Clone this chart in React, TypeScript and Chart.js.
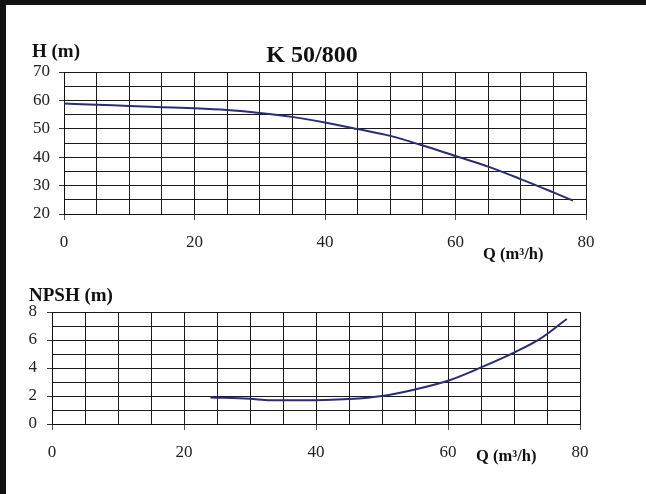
import React, { useEffect, useRef } from "react";
import { Chart, registerables } from "chart.js";
Chart.register(...registerables);

// ---- data ----
const headQ = [0, 5, 10, 15, 20, 25, 30, 35, 40, 45, 50, 55, 60, 65, 70, 75, 78];
const headH = [58.9, 58.5, 58, 57.6, 57.2, 56.6, 55.6, 54.2, 52.2, 49.9, 47.5, 44.1, 40.4, 36.7, 32.3, 27.6, 24.7];
const npshQ = [24, 30, 33, 40, 45, 50, 55, 60, 65, 70, 74, 78];
const npshV = [1.9, 1.8, 1.7, 1.7, 1.78, 2.0, 2.47, 3.09, 4.04, 5.1, 6.1, 7.5];
const xLabelTicks = [0, 20, 40, 60, 80];
const titleText = "K 50/800";
const headAxisTitle = "H (m)";
const npshAxisTitle = "NPSH (m)";
const qAxisTitle = "Q (m³/h)";

const SERIF = "'Liberation Serif', 'Times New Roman', serif";
const LINE = "#2b2b7a";
const GRID = "#1a1a1a";

type TextItem = { text: string; x: number; y: number; size: number; bold?: boolean; align?: CanvasTextAlign };

const textPlugin = {
  id: "freeText",
  afterDraw(chart: any, _args: any, opts: any) {
    const ctx = chart.ctx;
    const items: TextItem[] = opts.items || [];
    ctx.save();
    ctx.fillStyle = "#111";
    ctx.textBaseline = "alphabetic";
    for (const it of items) {
      ctx.font = `${it.bold ? "bold " : ""}${it.size}px ${SERIF}`;
      ctx.textAlign = it.align || "left";
      ctx.fillText(it.text, it.x, it.y);
    }
    ctx.restore();
  },
};

function makeConfig(
  qs: number[],
  vs: number[],
  yMin: number,
  yMax: number,
  yStep: number,
  yLabelEvery: number,
  area: { left: number; right: number; top: number; bottom: number },
  size: { w: number; h: number },
  yPad: number,
  xPad: number,
  texts: TextItem[]
): any {
  return {
    type: "line",
    data: {
      datasets: [
        {
          data: qs.map((q, i) => ({ x: q, y: vs[i] })),
          borderColor: LINE,
          borderWidth: 2,
          pointRadius: 0,
          cubicInterpolationMode: "monotone",
          fill: false,
        },
      ],
    },
    options: {
      animation: false,
      responsive: false,
      maintainAspectRatio: false,
      layout: { padding: { left: 0, top: area.top, right: size.w - area.right, bottom: 0 } },
      plugins: { legend: { display: false }, tooltip: { enabled: false }, title: { display: false }, freeText: { items: texts } },
      scales: {
        x: {
          type: "linear",
          min: 0,
          max: 80,
          afterFit: (s: any) => {
            s.height = size.h - area.bottom;
          },
          afterBuildTicks: (s: any) => {
            const t = [];
            for (let v = 0; v <= 80; v += 5) t.push({ value: v });
            s.ticks = t;
          },
          ticks: {
            autoSkip: false,
            maxRotation: 0,
            padding: xPad,
            color: "#222",
            font: { family: SERIF, size: 17 },
            callback: (v: number) => (xLabelTicks.includes(v) ? String(v) : ""),
          },
          grid: {
            color: GRID,
            lineWidth: 1,
            tickLength: 6,
            tickColor: (c: any) => (c.tick && xLabelTicks.includes(c.tick.value) ? "#555" : "rgba(0,0,0,0)"),
          },
          border: { color: "#111", width: 1 },
        },
        y: {
          type: "linear",
          min: yMin,
          max: yMax,
          afterFit: (s: any) => {
            s.width = area.left;
          },
          afterBuildTicks: (s: any) => {
            const t = [];
            for (let v = yMin; v <= yMax + 1e-9; v += yStep) t.push({ value: v });
            s.ticks = t;
          },
          ticks: {
            autoSkip: false,
            padding: yPad,
            color: "#222",
            font: { family: SERIF, size: 17 },
            callback: (v: number) => (Math.abs(v % yLabelEvery) < 1e-9 ? String(v) : ""),
          },
          grid: {
            color: GRID,
            lineWidth: 1,
            tickLength: 5,
            tickColor: (c: any) =>
              c.tick && Math.abs(c.tick.value % yLabelEvery) < 1e-9 ? "#333" : "rgba(0,0,0,0)",
          },
          border: { color: "#111", width: 1 },
        },
      },
    },
    plugins: [textPlugin],
  };
}

function ChartCanvas({ config, w, h, top }: { config: any; w: number; h: number; top: number }) {
  const ref = useRef<HTMLCanvasElement>(null);
  useEffect(() => {
    if (!ref.current) return;
    const c = new Chart(ref.current, config);
    return () => c.destroy();
  }, []);
  return (
    <canvas
      ref={ref}
      width={w}
      height={h}
      style={{ position: "absolute", left: 0, top, width: w, height: h }}
    />
  );
}

export default function App() {
  const W = 646;
  const H1 = 265;
  const H2 = 494 - H1;
  const top = makeConfig(
    headQ,
    headH,
    20,
    70,
    5,
    10,
    { left: 64, right: 586, top: 72, bottom: 214 },
    { w: W, h: H1 },
    9,
    12,
    [
      { text: titleText, x: 312, y: 62, size: 24, bold: true, align: "center" },
      { text: headAxisTitle, x: 32, y: 57, size: 19, bold: true },
      { text: qAxisTitle, x: 483, y: 259, size: 16.5, bold: true },
    ]
  );
  const bottom = makeConfig(
    npshQ,
    npshV,
    0,
    8,
    1,
    2,
    { left: 52, right: 580, top: 47, bottom: 159 },
    { w: W, h: H2 },
    10,
    12,
    [
      { text: npshAxisTitle, x: 29, y: 301 - H1, size: 19, bold: true },
      { text: qAxisTitle, x: 476, y: 461 - H1, size: 16.5, bold: true },
    ]
  );
  return (
    <div style={{ position: "fixed", left: 0, top: 0, width: W, height: 494, background: "#fff", overflow: "hidden" }}>
      <ChartCanvas config={top} w={W} h={H1} top={0} />
      <ChartCanvas config={bottom} w={W} h={H2} top={H1} />
      <div style={{ position: "absolute", left: 0, top: 0, width: W, height: 5, background: "#111" }} />
      <div style={{ position: "absolute", left: 0, top: 0, width: 6, height: 494, background: "#111" }} />
    </div>
  );
}
